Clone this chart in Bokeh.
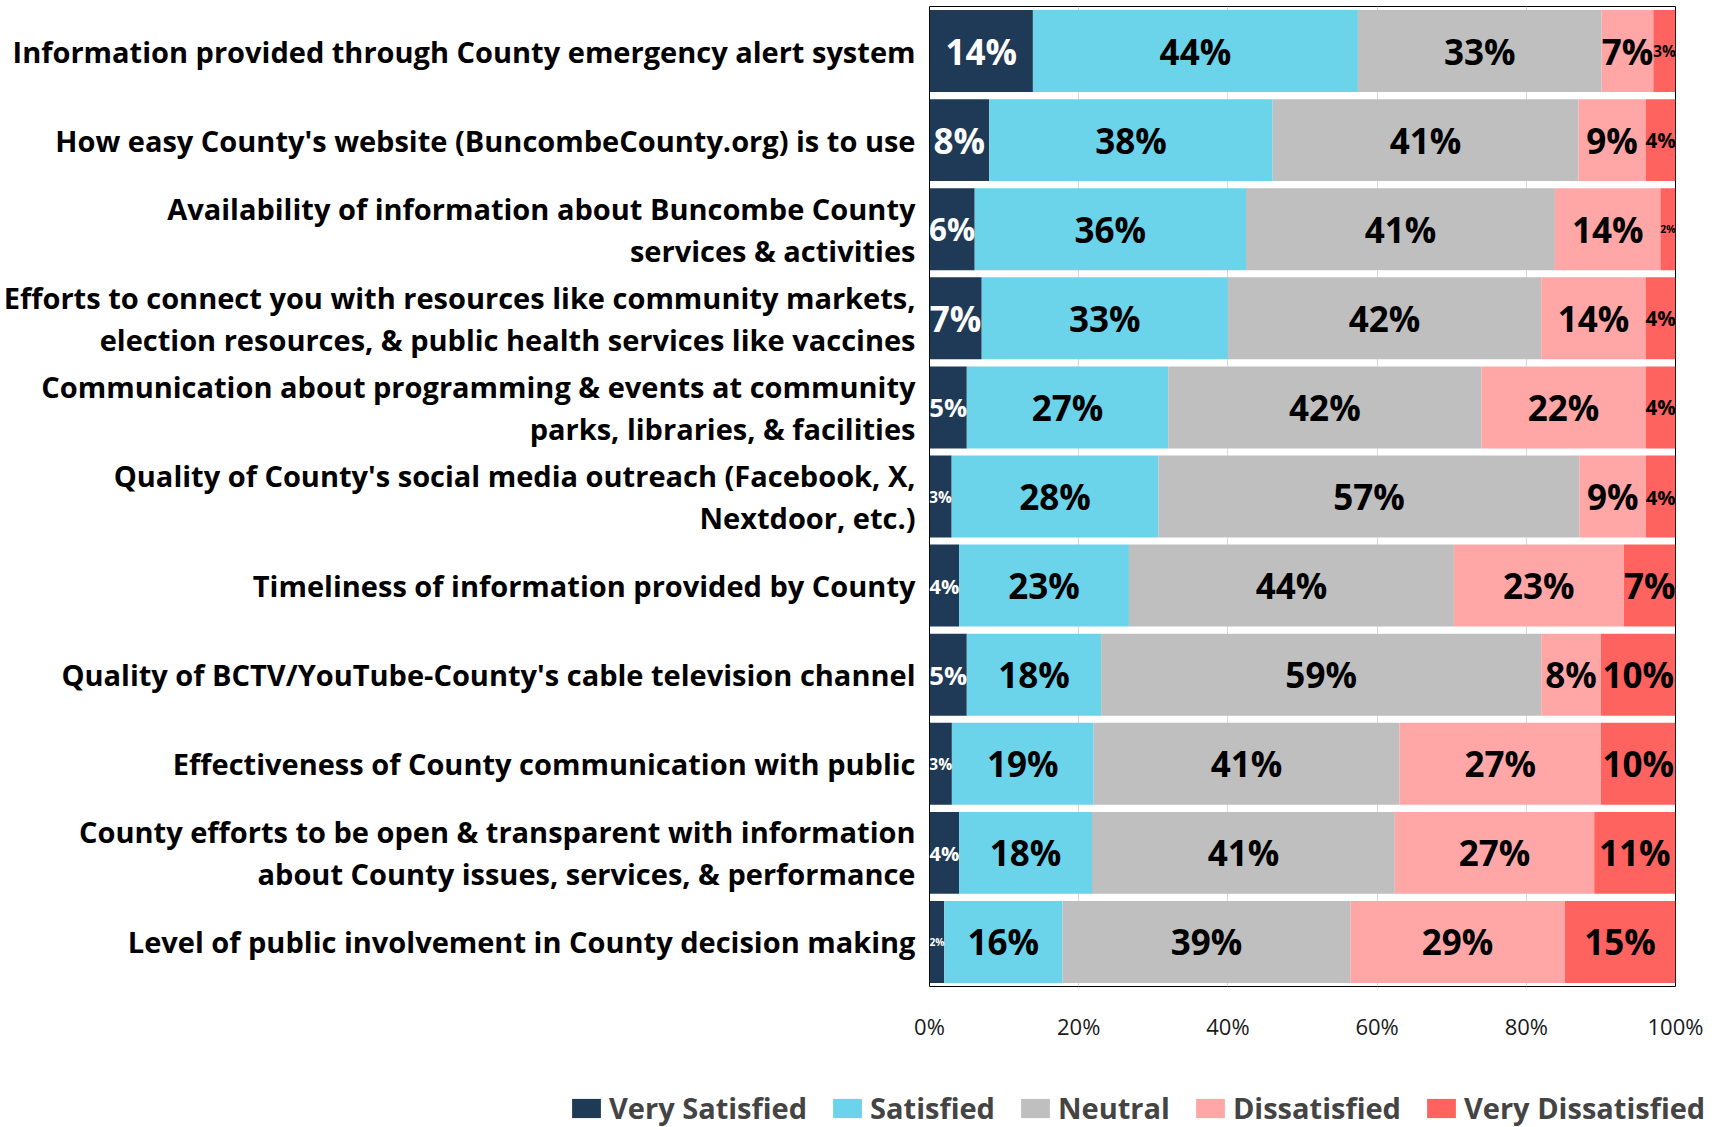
from bokeh.plotting import figure
from bokeh.layouts import column
from bokeh.models import (FactorRange, Range1d, FixedTicker, NumeralTickFormatter,
                          Legend, LegendItem, ColumnDataSource)
from bokeh.core.properties import value
from bokeh.embed import file_html
from bokeh.resources import INLINE

# ---------------- data ----------------
questions = [
    "Information provided through County emergency alert system",
    "How easy County's website (BuncombeCounty.org) is to use",
    "Availability of information about Buncombe County\nservices & activities",
    "Efforts to connect you with resources like community markets,\nelection resources, & public health services like vaccines",
    "Communication about programming & events at community\nparks, libraries, & facilities",
    "Quality of County's social media outreach (Facebook, X,\nNextdoor, etc.)",
    "Timeliness of information provided by County",
    "Quality of BCTV/YouTube-County's cable television channel",
    "Effectiveness of County communication with public",
    "County efforts to be open & transparent with information\nabout County issues, services, & performance",
    "Level of public involvement in County decision making",
]
series_names = ["Very Satisfied", "Satisfied", "Neutral", "Dissatisfied", "Very Dissatisfied"]
very_satisfied    = [14, 8, 6, 7, 5, 3, 4, 5, 3, 4, 2]
satisfied         = [44, 38, 36, 33, 27, 28, 23, 18, 19, 18, 16]
neutral           = [33, 41, 41, 42, 42, 57, 44, 59, 41, 41, 39]
dissatisfied      = [7, 9, 14, 14, 22, 9, 23, 8, 27, 27, 29]
very_dissatisfied = [3, 4, 2, 4, 4, 4, 7, 10, 10, 11, 15]
x_ticks = [0, 0.2, 0.4, 0.6, 0.8, 1.0]

colors = ["#1F3A56", "#6BD3EA", "#BFBFBF", "#FFA7A7", "#FF6360"]
label_colors = ["white", "black", "black", "black", "black"]

series = [very_satisfied, satisfied, neutral, dissatisfied, very_dissatisfied]
keys = ["vs", "s", "n", "d", "vd"]

# normalise each row to 100 %
totals = [sum(s[i] for s in series) for i in range(len(questions))]
data = {"q": questions}
for k, s in zip(keys, series):
    data[k] = [v / t for v, t in zip(s, totals)]
src = ColumnDataSource(data)

# ---------------- main figure ----------------
FRAME_W = 748
p = figure(width=1712, height=1050, output_backend="svg", toolbar_location=None,
           y_range=FactorRange(factors=list(reversed(questions))),
           x_range=Range1d(0, 1),
           min_border_left=922, min_border_right=37, min_border_top=6, min_border_bottom=64)
p.frame_align = False
p.border_fill_color = "white"

renderers = p.hbar_stack(keys, y="q", height=0.92, color=colors, line_color=None, source=src)

# segment labels
lx, ly, lt, lc, ls = [], [], [], [], []
for i, q in enumerate(questions):
    left = 0.0
    for j, k in enumerate(keys):
        w = data[k][i]
        lx.append(left + w / 2)
        ly.append(q)
        lt.append(f"{series[j][i]}%")
        lc.append(label_colors[j])
        px = w * FRAME_W
        ls.append(f"{min(35.0, px / 1.45):.1f}px")
        left += w
lsrc = ColumnDataSource(dict(x=lx, y=ly, t=lt, c=lc, s=ls))
p.text(x="x", y="y", text="t", text_color="c", text_font_size="s", source=lsrc,
       text_align="center", text_baseline="middle",
       text_font=value("Open Sans"), text_font_style="bold")

# axes
p.xaxis.ticker = FixedTicker(ticks=x_ticks)
p.xaxis.formatter = NumeralTickFormatter(format="0%")
p.xaxis.axis_line_color = None
p.xaxis.major_tick_line_color = None
p.xaxis.minor_tick_line_color = None
p.xaxis.major_label_text_font = "Open Sans"
p.xaxis.major_label_text_font_size = "22px"
p.xaxis.major_label_text_color = "#1a1a1a"
p.xaxis.major_label_standoff = 18

p.yaxis.axis_line_color = None
p.yaxis.major_tick_line_color = None
p.yaxis.minor_tick_line_color = None
p.yaxis.major_label_text_font = "Open Sans"
p.yaxis.major_label_text_font_style = "bold"
p.yaxis.major_label_text_font_size = "29px"
p.yaxis.major_label_text_color = "black"
p.yaxis.major_label_text_line_height = 1.08
p.yaxis.major_label_standoff = 8

p.xgrid.grid_line_color = "#D9D9D9"
p.ygrid.grid_line_color = None
p.outline_line_color = "black"
p.outline_line_width = 1

# ---------------- legend strip ----------------
lg = figure(width=1712, height=77, output_backend="svg", toolbar_location=None,
            x_range=Range1d(0, 1), y_range=Range1d(0, 1),
            min_border_left=0, min_border_right=0, min_border_top=0, min_border_bottom=0,
            x_axis_type=None, y_axis_type=None)
lg.frame_align = False
lg.outline_line_color = None
lg.background_fill_color = "white"
lg.border_fill_color = "white"
dummy = []
for c in colors:
    dummy.append(lg.quad(left="l", right="r", bottom="b", top="t", color=c, line_color=None,
                         source=ColumnDataSource(dict(l=[-10.0], r=[-9.0], b=[-10.0], t=[-9.0]))))

legend = Legend(items=[LegendItem(label=n, renderers=[r]) for n, r in zip(series_names, dummy)],
                orientation="horizontal", location=(568, 0),
                glyph_width=36, glyph_height=24, label_height=24, label_standoff=5,
                spacing=22, padding=0, margin=0,
                label_text_font="Open Sans", label_text_font_style="bold",
                label_text_font_size="29px", label_text_baseline="middle",
                border_line_color=None, background_fill_alpha=0)
lg.add_layout(legend, "center")

layout = column(p, lg, spacing=0)
open("out.html", "w").write(file_html(layout, INLINE))
